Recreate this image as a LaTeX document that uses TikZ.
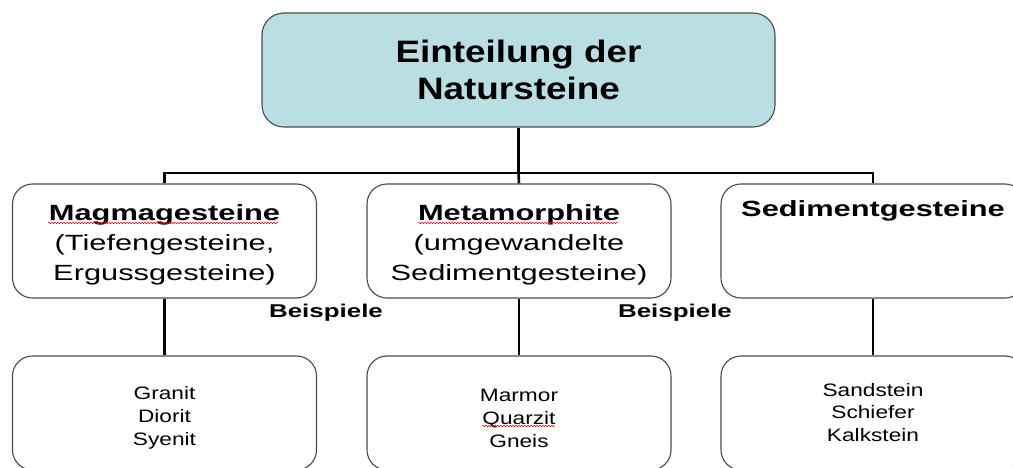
\documentclass[tikz,border=0pt]{standalone}
\usepackage{fontspec}
\setmainfont{Liberation Sans}
\newfontfamily\titlefont[FakeStretch=1.19]{Liberation Sans}
\newfontfamily\midfont[FakeStretch=1.4]{Liberation Sans}
\newfontfamily\lowfont[FakeStretch=1.26]{Liberation Sans}
\usetikzlibrary{decorations.pathmorphing}
\definecolor{boxgray}{HTML}{4A4A4A}
\definecolor{topfill}{HTML}{B9DFE3}
\tikzset{
  boxbase/.style={draw=boxgray, line width=1.1pt, align=center, inner sep=0pt},
  topbox/.style={boxbase, fill=topfill, rounded corners=22pt, minimum width=513pt, minimum height=114pt,
    font=\titlefont\fontsize{31}{37}\selectfont\bfseries},
  framebox/.style={boxbase, fill=white, rounded corners=20pt, minimum width=304pt, minimum height=114pt},
  midtext/.style={align=center, inner sep=0pt, font=\midfont\fontsize{22}{30}\selectfont},
  lowtext/.style={align=center, inner sep=0pt, font=\lowfont\fontsize{18}{23}\selectfont},
  exlabel/.style={inner sep=0pt, font=\midfont\fontsize{18.5}{22}\selectfont\bfseries},
  link/.style={line width=2.6pt, black},
  squig/.style={red, line width=0.5pt, decorate, decoration={snake, amplitude=0.8pt, segment length=3pt}}
}
\begin{document}
\begin{tikzpicture}[x=1pt,y=-1pt]
\useasboundingbox (0,0) rectangle (1013,468);
\clip (0,0) rectangle (1013,468);
% boxes
\node[topbox] (top) at (518.5,70) {Einteilung der\\Natursteine};
\node[framebox] (mag) at (164.5,241) {};
\node[framebox] (met) at (519,241) {};
\node[framebox] (sed) at (873,241) {};
\node[framebox] (gra) at (164.5,413) {};
\node[framebox] (mar) at (519,413) {};
\node[framebox] (san) at (873,413) {};
% box texts
\node[midtext] (magT) at (164.5,245) {\textbf{Magmagesteine}\\(Tiefengesteine,\\Ergussgesteine)};
\node[midtext] (metT) at (519,245) {\textbf{Metamorphite}\\(umgewandelte\\Sedimentgesteine)};
\node[midtext] (sedT) at (873,211) {\textbf{Sedimentgesteine}};
\node[lowtext] (graT) at (164.5,418) {Granit\\Diorit\\Syenit};
\node[lowtext] (marT) at (519,418) {Marmor\\Quarzit\\Gneis};
\node[lowtext, font=\lowfont\fontsize{18}{22.5}\selectfont] (sanT) at (873,412.5) {Sandstein\\Schiefer\\Kalkstein};
% labels
\node[exlabel] (bsp1) at (326,313) {Beispiele};
\node[exlabel] (bsp2) at (675,313) {Beispiele};
% connectors
\coordinate (bus) at (518.5,173);
\draw[link] (top.south) -- (bus);
\draw[link] (mag.north) |- (bus) -| (sed.north);
\draw[link] (bus) -- (met.north);
\draw[link] (mag.south) -- (gra.north);
\draw[link] (met.south) -- (mar.north);
\draw[link] (sed.south) -- (san.north);
% spell-check underlines
\draw[squig] (48,223) -- (278,223);
\draw[squig] (418,223) -- (618,223);
\draw[squig] (482,426) -- (555,426);
\end{tikzpicture}
\end{document}
